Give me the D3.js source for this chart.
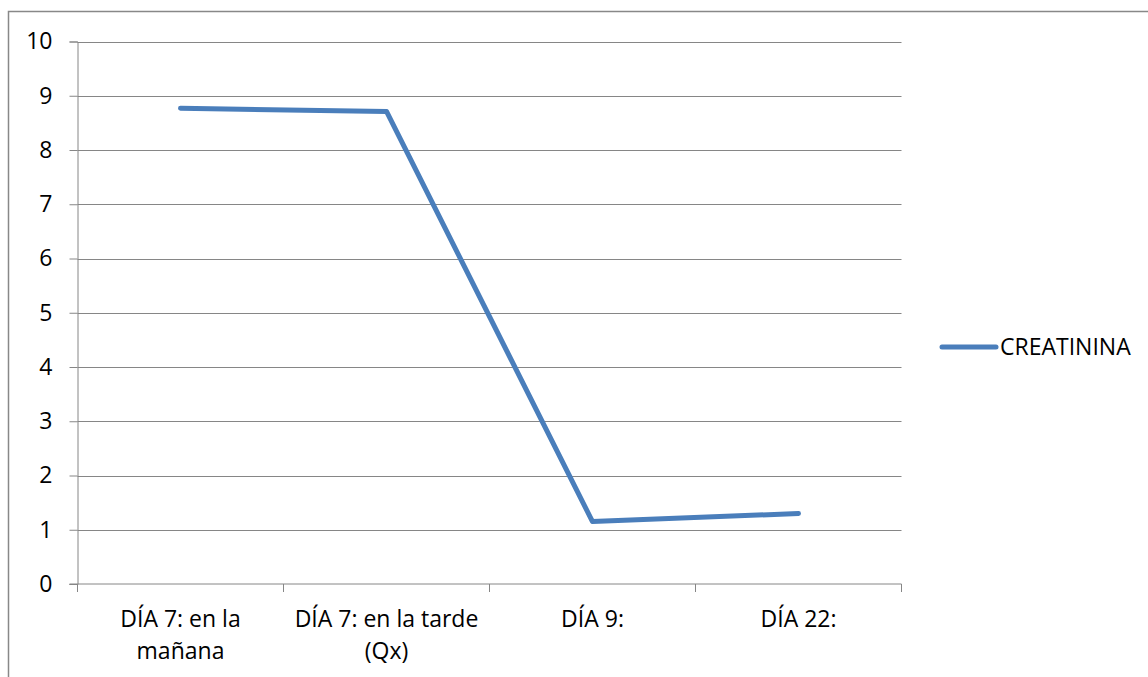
<!DOCTYPE html>
<html>
<head>
<meta charset="utf-8">
<script src="https://cdn.jsdelivr.net/npm/d3@7"></script>
<style>
  html, body { margin: 0; padding: 0; background: #fff; }
  svg { display: block; }
  text { font-family: "Open Sans", "Noto Sans", sans-serif; fill: #000; }
</style>
</head>
<body>
<svg id="chart" width="1148" height="677"></svg>
<script>
// Category labels (line breaks mark where each label wraps)
const categories = ["DÍA 7: en la\nmañana", "DÍA 7: en la tarde\n(Qx)", "DÍA 9:", "DÍA 22:"];
const seriesName = "CREATININA";
const creatinina = [8.77, 8.71, 1.15, 1.30];
const yTicks = [0, 1, 2, 3, 4, 5, 6, 7, 8, 9, 10];

const svg = d3.select("#chart");
const W = 1148, H = 677;
const FONT = "23px";
const margin = { left: 77.5, top: 41.5, right: 901.5, bottom: 584 };

// outer chart frame
svg.append("rect")
  .attr("x", 8.5).attr("y", 11.5)
  .attr("width", W).attr("height", H)
  .attr("fill", "none").attr("stroke", "#888").attr("stroke-width", 1.5);

const x = d3.scaleBand().domain(categories).range([margin.left, margin.right]).padding(0);
const y = d3.scaleLinear().domain([0, 10]).range([margin.bottom, margin.top]);

// horizontal gridlines
svg.append("g").selectAll("line").data(yTicks.filter(d => d > 0)).join("line")
  .attr("x1", margin.left).attr("x2", margin.right)
  .attr("y1", d => Math.round(y(d)) + 0.5).attr("y2", d => Math.round(y(d)) + 0.5)
  .attr("stroke", "#868686").attr("stroke-width", 1);

// y axis
const yAxis = svg.append("g")
  .attr("transform", `translate(${margin.left},0)`)
  .call(d3.axisLeft(y).tickValues(yTicks).tickSize(8).tickPadding(17).tickFormat(d3.format("d")));
yAxis.attr("font-size", null).attr("font-family", null);
yAxis.select(".domain").attr("stroke", "#868686");
yAxis.selectAll(".tick line").attr("stroke", "#868686");
yAxis.selectAll(".tick text").style("font-size", FONT).attr("fill", "#000");

// x axis with ticks at band boundaries
const xAxisG = svg.append("g").attr("transform", `translate(0,${margin.bottom})`);
xAxisG.append("line")
  .attr("x1", margin.left - 8).attr("x2", margin.right)
  .attr("stroke", "#868686");
const bounds = categories.map(c => x(c)).concat([margin.right]);
xAxisG.selectAll("line.tk").data(bounds).join("line").attr("class", "tk")
  .attr("x1", d => d).attr("x2", d => d).attr("y1", 0).attr("y2", 8)
  .attr("stroke", "#868686");
xAxisG.selectAll("text.cat").data(categories).join("text").attr("class", "cat")
  .attr("text-anchor", "middle")
  .attr("transform", d => `translate(${x(d) + x.bandwidth() / 2},0)`)
  .style("font-size", FONT)
  .each(function(d) {
    d.split("\n").forEach((line, i) => {
      d3.select(this).append("tspan").attr("x", 0).attr("y", 43 + i * 32).text(line);
    });
  });

// series line
const line = d3.line()
  .x((d, i) => x(categories[i]) + x.bandwidth() / 2)
  .y(d => y(d));
svg.append("path").datum(creatinina)
  .attr("d", line)
  .attr("fill", "none").attr("stroke", "#4A7EBB").attr("stroke-width", 5)
  .attr("stroke-linecap", "round").attr("stroke-linejoin", "round");

// legend
const lg = svg.append("g").attr("transform", "translate(942,347)");
lg.append("line").attr("x1", 0).attr("x2", 54)
  .attr("stroke", "#4A7EBB").attr("stroke-width", 5).attr("stroke-linecap", "round");
lg.append("text").attr("x", 58).attr("y", 8).style("font-size", FONT).text(seriesName);
</script>
</body>
</html>
